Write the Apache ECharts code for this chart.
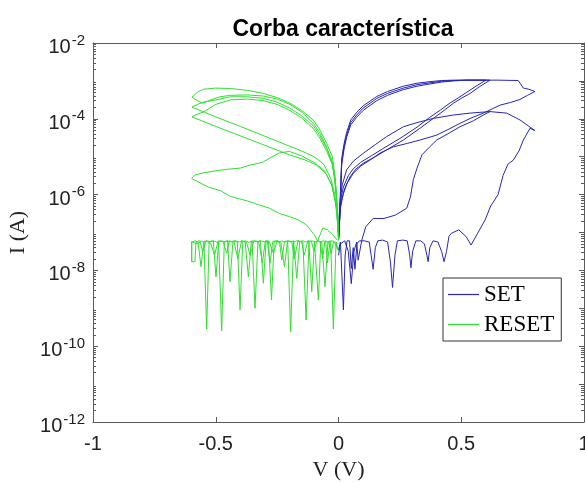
<!DOCTYPE html>
<html><head><meta charset="utf-8">
<script src="https://cdn.jsdelivr.net/npm/echarts@6/dist/echarts.min.js"></script>
<style>html,body{margin:0;padding:0;background:#fff}#c{width:585px;height:483px}</style>
</head><body><div id="c"></div><script>
// ---------- tick labels ----------
const xTicks = [-1, -0.5, 0, 0.5, 1];
const yDecadeLabels = [-12, -10, -8, -6, -4, -2];
const minorMantissas = [2, 3, 4, 5, 6, 7, 8, 9];
const minorDecades = [-12, -11, -10, -9, -8, -7, -6, -5, -4, -3];

// ---------- SET (blue) : V in volts, log10(I in A) ----------
const setArc1V = [0, 0.003, 0.008, 0.013, 0.022, 0.033, 0.05, 0.074, 0.10, 0.156, 0.20, 0.264, 0.32, 0.373, 0.42, 0.47, 0.52, 0.617];
const setArc1LogI = [-7.2, -6.9, -6.0, -5.15, -4.75, -4.43, -4.1, -3.9, -3.72, -3.46, -3.33, -3.19, -3.10, -3.05, -3.01, -2.99, -2.98, -2.98];
const setRet1V = [0.617, 0.575, 0.536, 0.50, 0.468, 0.43, 0.386, 0.332, 0.264, 0.196, 0.15, 0.101, 0.07, 0.047, 0.025, 0.012, 0.006, 0.002];
const setRet1LogI = [-2.98, -3.15, -3.33, -3.46, -3.59, -3.78, -3.99, -4.25, -4.56, -4.82, -5.0, -5.17, -5.33, -5.53, -5.85, -6.15, -6.41, -6.9];
const setArc2V = [0, 0.003, 0.008, 0.013, 0.022, 0.033, 0.05, 0.074, 0.10, 0.156, 0.20, 0.264, 0.32, 0.373, 0.42, 0.47, 0.52, 0.60];
const setArc2LogI = [-7.2, -6.95, -6.1, -5.22, -4.82, -4.49, -4.16, -3.96, -3.78, -3.52, -3.38, -3.23, -3.14, -3.08, -3.03, -3.0, -2.98, -2.98];
const setRet2V = [0.60, 0.56, 0.52, 0.49, 0.455, 0.415, 0.37, 0.32, 0.25, 0.18, 0.135, 0.09, 0.06, 0.04, 0.02, 0.01, 0.004, 0.001];
const setRet2LogI = [-2.98, -3.14, -3.31, -3.44, -3.58, -3.77, -3.97, -4.22, -4.52, -4.79, -4.97, -5.15, -5.32, -5.5, -5.8, -6.1, -6.4, -6.9];
const setArc3V = [0, 0.003, 0.008, 0.013, 0.022, 0.033, 0.05, 0.074, 0.10, 0.156, 0.20, 0.264, 0.32, 0.373, 0.42, 0.468, 0.55, 0.65, 0.732, 0.753, 0.775, 0.80];
const setArc3LogI = [-7.2, -6.85, -5.9, -5.05, -4.68, -4.36, -4.03, -3.83, -3.66, -3.41, -3.28, -3.14, -3.06, -3.02, -2.99, -2.98, -2.98, -2.98, -2.99, -3.19, -3.22, -3.28];
const setRet3V = [0.80, 0.77, 0.739, 0.70, 0.658, 0.59, 0.54, 0.495, 0.45, 0.40, 0.332, 0.28, 0.223, 0.17, 0.128, 0.09, 0.06, 0.035, 0.02, 0.008, 0.003, 0];
const setRet3LogI = [-3.28, -3.38, -3.49, -3.57, -3.64, -3.85, -3.98, -4.12, -4.27, -4.43, -4.56, -4.65, -4.74, -4.90, -5.09, -5.25, -5.44, -5.7, -5.97, -6.35, -6.85, -7.2];
const setHrs1V = [0, 0.008, 0.014, 0.020, 0.027, 0.035, 0.045, 0.052, 0.060, 0.067, 0.075, 0.085, 0.105, 0.125, 0.133, 0.141, 0.150, 0.160, 0.180, 0.200, 0.212, 0.220, 0.230, 0.240, 0.262, 0.280, 0.290, 0.295, 0.302, 0.315, 0.335, 0.35, 0.36, 0.365, 0.372, 0.385, 0.405, 0.42, 0.43, 0.44, 0.45, 0.46, 0.49, 0.52, 0.54, 0.567, 0.597, 0.62, 0.65, 0.67, 0.69, 0.712, 0.735, 0.753, 0.78, 0.80];
const setHrs1LogI = [-7.46, -7.25, -7.2, -9.04, -7.6, -7.22, -7.22, -7.95, -7.4, -7.97, -7.3, -7.22, -7.22, -7.25, -7.6, -7.97, -7.4, -7.22, -7.2, -7.25, -7.8, -8.45, -7.6, -7.22, -7.2, -7.22, -7.6, -7.93, -7.5, -7.22, -7.22, -7.3, -7.6, -7.77, -7.4, -7.22, -7.25, -7.5, -7.77, -7.5, -7.1, -7.02, -6.93, -7.11, -7.33, -7.02, -6.67, -6.3, -6.0, -5.5, -5.2, -5.09, -4.85, -4.56, -4.25, -4.31];
const setHrs1RetV = [0.80, 0.739, 0.685, 0.617, 0.536, 0.468, 0.386, 0.32, 0.264, 0.196, 0.15, 0.101, 0.06, 0.033, 0.015, 0.006, 0.001];
const setHrs1RetLogI = [-4.31, -4.03, -3.85, -3.81, -3.85, -3.90, -3.99, -4.10, -4.21, -4.47, -4.68, -4.91, -5.12, -5.35, -5.75, -6.23, -6.9];
const setHrs2V = [0, 0.008, 0.025, 0.04, 0.052, 0.063, 0.074, 0.08, 0.095, 0.111, 0.141, 0.185, 0.232, 0.278, 0.293, 0.305, 0.32, 0.34, 0.37, 0.40, 0.45, 0.495, 0.55, 0.59, 0.617];
const setHrs2LogI = [-7.6, -7.3, -7.22, -7.5, -8.35, -7.5, -7.25, -7.73, -7.2, -6.85, -6.63, -6.63, -6.54, -6.36, -6.06, -5.6, -5.3, -4.95, -4.75, -4.56, -4.38, -4.21, -4.05, -3.90, -3.81];

// ---------- RESET (green) ----------
const resetArcV = [0, -0.003, -0.008, -0.014, -0.025, -0.048, -0.075, -0.103, -0.15, -0.198, -0.25, -0.306, -0.37, -0.44, -0.50, -0.55, -0.575, -0.597];
const resetArc1LogI = [-7.2, -6.6, -6.0, -5.53, -5.0, -4.65, -4.3, -4.03, -3.78, -3.59, -3.44, -3.33, -3.25, -3.20, -3.19, -3.22, -3.30, -3.43];
const resetArc2LogI = [-7.2, -6.65, -6.08, -5.62, -5.12, -4.78, -4.45, -4.18, -3.92, -3.72, -3.56, -3.46, -3.42, -3.42, -3.50, -3.56, -3.62, -3.69];
const resetArc3LogI = [-7.2, -6.7, -6.15, -5.7, -5.2, -4.86, -4.52, -4.25, -3.98, -3.78, -3.62, -3.52, -3.48, -3.50, -3.62, -3.82, -3.88, -3.95];
const resetRet1V = [-0.597, -0.575, -0.553, -0.52, -0.483, -0.44, -0.37, -0.306, -0.25, -0.198, -0.15, -0.103, -0.075, -0.048, -0.025, -0.014, -0.008, -0.003, 0];
const resetRet1LogI = [-3.43, -3.52, -3.59, -3.50, -3.42, -3.38, -3.37, -3.40, -3.48, -3.62, -3.82, -4.12, -4.38, -4.75, -5.2, -5.6, -6.1, -6.6, -7.1];
const resetRet2V = [-0.597, -0.50, -0.40, -0.30, -0.20, -0.15, -0.10, -0.06, -0.03, -0.015, -0.006, 0];
const resetRet2LogI = [-3.69, -3.95, -4.20, -4.46, -4.72, -4.85, -5.0, -5.2, -5.6, -6.0, -6.5, -7.1];
const resetRet3V = [-0.597, -0.50, -0.40, -0.30, -0.20, -0.13, -0.09, -0.05, -0.025, -0.01, 0];
const resetRet3LogI = [-3.95, -4.20, -4.45, -4.70, -4.95, -5.10, -5.22, -5.45, -5.8, -6.3, -7.0];
const resetPartUpV = [-0.598, -0.585, -0.56, -0.50, -0.45, -0.40, -0.36, -0.31, -0.27, -0.24, -0.20, -0.15, -0.10, -0.06, -0.03, -0.012, 0];
const resetPartUpLogI = [-5.57, -5.48, -5.44, -5.37, -5.33, -5.30, -5.22, -5.15, -5.00, -4.90, -4.86, -4.98, -5.15, -5.35, -5.7, -6.2, -7.0];
const resetPartLowV = [-0.598, -0.53, -0.48, -0.44, -0.37, -0.32, -0.28, -0.24, -0.20, -0.163, -0.13, -0.10, -0.085, -0.064, -0.045, -0.025, -0.005];
const resetPartLowLogI = [-5.58, -5.80, -5.90, -6.05, -6.17, -6.28, -6.36, -6.50, -6.58, -6.67, -6.80, -7.05, -7.22, -6.88, -6.93, -7.05, -7.2];
const resetNoise1V = [-0.598, -0.598, -0.590, -0.575, -0.560, -0.548, -0.537, -0.527, -0.515, -0.500, -0.488, -0.476, -0.465, -0.452, -0.440, -0.425, -0.412, -0.401, -0.390, -0.378, -0.366, -0.352, -0.340, -0.328, -0.315, -0.300, -0.290, -0.279, -0.268, -0.255, -0.243, -0.231, -0.219, -0.207, -0.195, -0.183, -0.170, -0.157, -0.145, -0.132, -0.120, -0.108, -0.095, -0.082, -0.068, -0.055, -0.043, -0.032, -0.021, -0.010, -0.003];
const resetNoise1LogI = [-7.77, -7.24, -7.22, -7.30, -7.22, -7.25, -9.55, -7.25, -7.22, -7.24, -7.28, -9.60, -7.24, -7.22, -7.25, -7.22, -7.25, -9.04, -7.24, -7.22, -7.26, -7.22, -9.00, -7.24, -7.22, -7.25, -7.22, -7.81, -7.24, -7.22, -7.26, -7.22, -7.25, -7.24, -9.62, -7.25, -7.22, -7.23, -7.25, -9.31, -7.24, -7.22, -7.25, -7.22, -7.26, -8.43, -7.24, -7.22, -9.55, -7.25, -7.30];
const resetNoise2V = [-0.595, -0.585, -0.572, -0.560, -0.548, -0.535, -0.520, -0.510, -0.499, -0.488, -0.475, -0.463, -0.452, -0.442, -0.430, -0.418, -0.405, -0.392, -0.380, -0.367, -0.355, -0.343, -0.330, -0.318, -0.306, -0.295, -0.285, -0.273, -0.262, -0.250, -0.240, -0.231, -0.220, -0.208, -0.195, -0.183, -0.170, -0.158, -0.145, -0.132, -0.121, -0.109, -0.098, -0.090, -0.082, -0.072, -0.062, -0.052, -0.045, -0.035, -0.025, -0.012, -0.003];
const resetNoise2LogI = [-7.25, -7.22, -7.26, -7.90, -7.24, -7.22, -7.25, -7.22, -8.17, -7.24, -7.22, -7.26, -7.22, -8.30, -7.24, -7.22, -7.25, -7.22, -7.26, -8.17, -7.24, -7.22, -7.25, -7.22, -8.34, -7.24, -7.22, -8.78, -7.24, -7.22, -7.26, -7.73, -7.24, -7.22, -7.25, -7.22, -8.21, -7.24, -7.22, -7.25, -7.22, -8.56, -7.24, -7.22, -8.78, -7.24, -7.22, -7.25, -7.80, -7.24, -7.22, -7.30, -7.45];
const resetNoise3V = [-0.598, -0.598, -0.585, -0.580, -0.565, -0.553, -0.540, -0.520, -0.505, -0.490, -0.470, -0.455, -0.445, -0.425, -0.410, -0.395, -0.375, -0.360, -0.345, -0.325, -0.310, -0.298, -0.282, -0.265, -0.250, -0.235, -0.220, -0.207, -0.190, -0.180, -0.165, -0.150, -0.140, -0.125, -0.110, -0.100, -0.088, -0.075, -0.065, -0.055, -0.040, -0.030, -0.020, -0.008, 0];
const resetNoise3LogI = [-7.24, -7.77, -7.77, -7.24, -7.22, -7.5, -7.22, -7.3, -7.6, -7.22, -7.24, -7.55, -7.22, -7.25, -7.7, -7.22, -7.25, -7.6, -7.22, -7.24, -7.8, -7.22, -7.24, -7.55, -7.22, -7.25, -7.9, -7.22, -7.24, -7.7, -7.22, -7.25, -7.6, -7.22, -7.24, -7.5, -7.22, -7.24, -7.7, -7.22, -7.25, -7.55, -7.22, -7.3, -7.5];

const setCurves = [
  [setHrs1V, setHrs1LogI], [setHrs1RetV, setHrs1RetLogI], [setHrs2V, setHrs2LogI],
  [setArc1V, setArc1LogI], [setRet1V, setRet1LogI],
  [setArc2V, setArc2LogI], [setRet2V, setRet2LogI],
  [setArc3V, setArc3LogI], [setRet3V, setRet3LogI]
];
const resetCurves = [
  [resetNoise1V, resetNoise1LogI], [resetNoise2V, resetNoise2LogI], [resetNoise3V, resetNoise3LogI],
  [resetPartUpV, resetPartUpLogI], [resetPartLowV, resetPartLowLogI],
  [resetArcV, resetArc1LogI], [resetRet1V, resetRet1LogI],
  [resetArcV, resetArc2LogI], [resetRet2V, resetRet2LogI],
  [resetArcV, resetArc3LogI], [resetRet3V, resetRet3LogI]
];

const SET_COLOR = '#2626b8';
const RESET_COLOR = '#2ee02e';
function pts(v, l) { return v.map((x, i) => [x, Math.pow(10, l[i])]); }
function mk(name, color, c) {
  return { name: name, type: 'line', data: pts(c[0], c[1]), symbol: 'none', showSymbol: false,
    lineStyle: { width: 1, color: color }, itemStyle: { color: color }, animation: false, silent: true };
}
const series = [];
setCurves.forEach(c => series.push(mk('SET', SET_COLOR, c)));
resetCurves.forEach(c => series.push(mk('RESET', RESET_COLOR, c)));

const minorVals = [];
minorDecades.forEach(d => minorMantissas.forEach(m => minorVals.push(m * Math.pow(10, d))));
const majorVals = [];
for (let e = -12; e <= -2; e++) majorVals.push(Math.pow(10, e));

const AX = '#5a5a5a';
const sans = 'Liberation Sans, Arial, sans-serif';
const serif = 'Liberation Serif, Times New Roman, serif';

function yAxisBase(pos, extra) {
  return Object.assign({
    type: 'log', logBase: 10, min: 1e-12, max: 1e-2, position: pos,
    axisLine: { show: true, onZero: false, lineStyle: { color: AX, width: 1 } },
    splitLine: { show: false }, axisLabel: { show: false }
  }, extra);
}

const option = {
  animation: false,
  backgroundColor: '#fff',
  title: {
    text: 'Corba característica', left: 338, top: 13, textAlign: 'center',
    textStyle: { fontFamily: sans, fontSize: 23, fontWeight: 'bold', color: '#000' }
  },
  legend: {
    data: [{ name: 'SET', icon: 'rect' }, { name: 'RESET', icon: 'rect' }],
    orient: 'vertical', left: 443, top: 278,
    padding: [5, 7, 5, 5], itemGap: 7, itemWidth: 31, itemHeight: 1.2,
    backgroundColor: '#fff', borderColor: '#333', borderWidth: 1, borderRadius: 0,
    textStyle: { fontFamily: serif, fontSize: 23, color: '#000', lineHeight: 23 },
    selectedMode: false
  },
  grid: { left: 93, right: 1, top: 43, bottom: 61, containLabel: false, outerBoundsMode: 'none' },
  xAxis: [{
    type: 'value', min: -1, max: 1, interval: 0.5, position: 'bottom',
    name: 'V (V)', nameLocation: 'middle', nameGap: 37,
    nameTextStyle: { fontFamily: serif, fontSize: 22, color: '#222' },
    axisLine: { show: true, onZero: false, lineStyle: { color: AX, width: 1 } },
    axisTick: { show: true, inside: true, length: 5, lineStyle: { color: AX } },
    axisLabel: { margin: 12, fontFamily: sans, fontSize: 20, color: '#222',
      formatter: v => String(v) },
    splitLine: { show: false }
  }, {
    type: 'value', min: -1, max: 1, interval: 0.5, position: 'top',
    axisLine: { show: true, onZero: false, lineStyle: { color: AX, width: 1 } },
    axisTick: { show: true, inside: true, length: 5, lineStyle: { color: AX } },
    axisLabel: { show: false }, splitLine: { show: false }
  }],
  yAxis: [
    yAxisBase('left', {
      interval: 2,
      name: 'I (A)', nameLocation: 'middle', nameGap: 62, nameRotate: 90,
      nameTextStyle: { fontFamily: serif, fontSize: 22, color: '#222' },
      axisTick: { show: true, inside: true, length: 5, lineStyle: { color: AX } },
      axisLabel: {
        show: true, margin: 8,
        formatter: v => '{b|10}{s|' + Math.round(Math.log10(v)) + '}',
        rich: {
          b: { fontFamily: sans, fontSize: 20, color: '#222', padding: [9, 0, 0, 0] },
          s: { fontFamily: sans, fontSize: 15, color: '#222', padding: [0, 0, 5, 1] }
        }
      }
    }),
    yAxisBase('left', {
      axisLine: { show: false, onZero: false },
      axisTick: { show: true, inside: true, length: 3, customValues: minorVals, lineStyle: { color: AX } }
    }),
    yAxisBase('right', {
      axisTick: { show: true, inside: true, length: 5, customValues: majorVals, lineStyle: { color: AX } }
    }),
    yAxisBase('right', {
      axisLine: { show: false, onZero: false },
      axisTick: { show: true, inside: true, length: 3, customValues: minorVals, lineStyle: { color: AX } }
    })
  ],
  series: series
};

const chart = echarts.init(document.getElementById('c'), null, { renderer: 'canvas' });
chart.setOption(option);
</script></body></html>
